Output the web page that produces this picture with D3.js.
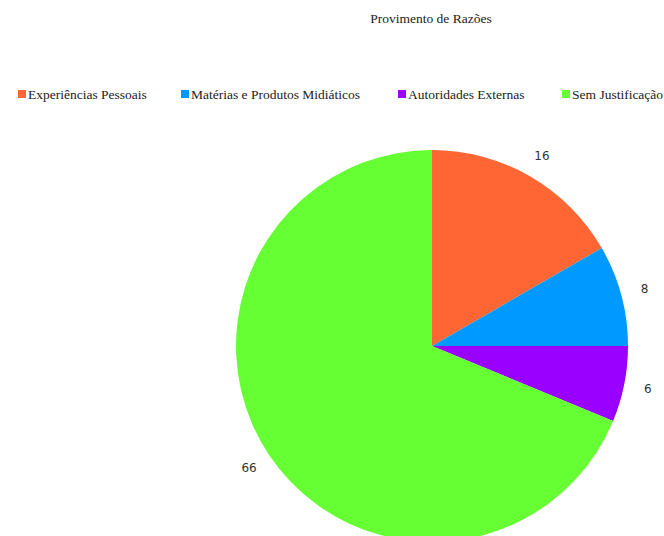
<!DOCTYPE html>
<html><head><meta charset="utf-8">
<script src="https://cdn.jsdelivr.net/npm/d3@7"></script>
<style>body{margin:0;background:#fff;overflow:hidden}</style>
</head><body>
<svg id="c" width="664" height="536"></svg>
<script>
const categories = ["Experiências Pessoais", "Matérias e Produtos Midiáticos", "Autoridades Externas", "Sem Justificação"];
const values = [16, 8, 6, 66];
const colors = ["#FF6633", "#0099FF", "#9900FF", "#66FF33"];
const title = "Provimento de Razões";

const svg = d3.select("#c");
const cx = 432, cy = 346, R = 196, LR = 220;

svg.append("text").attr("x", 431).attr("y", 23).attr("text-anchor", "middle")
  .attr("font-family", "Liberation Serif, serif").attr("font-size", 13.5).attr("fill", "#222").text(title);

const legX = [18, 181, 398, 562];
const leg = svg.append("g");
categories.forEach((c, i) => {
  leg.append("rect").attr("x", legX[i]).attr("y", 90).attr("width", 8).attr("height", 8).attr("fill", colors[i]);
  leg.append("text").attr("x", legX[i] + 10).attr("y", 99)
    .attr("font-family", "Liberation Serif, serif").attr("font-size", 13.5).attr("fill", "#222").text(c);
});

const pie = d3.pie().sort(null).value(d => d);
const arcs = pie(values);
const arc = d3.arc().innerRadius(0).outerRadius(R);
const g = svg.append("g").attr("transform", `translate(${cx},${cy})`);
g.selectAll("path").data(arcs).join("path").attr("d", arc).attr("fill", (d, i) => colors[i]);
const la = d3.arc().innerRadius(LR).outerRadius(LR);
g.selectAll("text.l").data(arcs).join("text").attr("class", "l")
  .attr("transform", d => `translate(${la.centroid(d)})`)
  .attr("text-anchor", "middle").attr("dy", "0.35em")
  .attr("font-family", "DejaVu Sans, sans-serif").attr("font-size", 12).attr("fill", "#333")
  .text(d => d.data);
</script>
</body></html>
